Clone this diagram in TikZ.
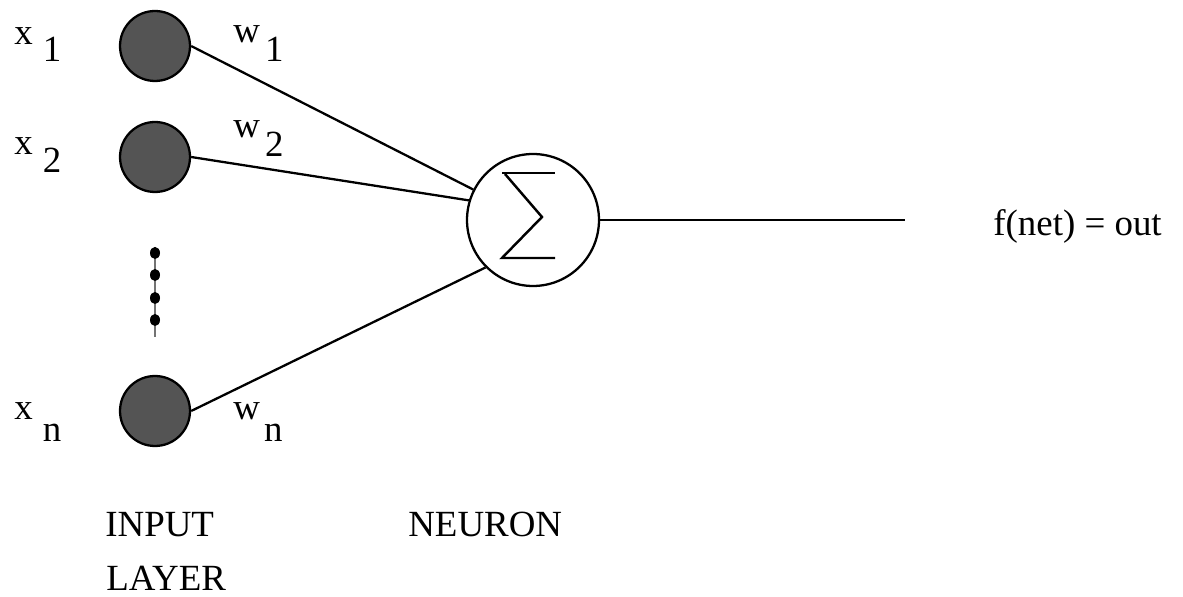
\documentclass[tikz,border=0pt]{standalone}
\usepackage{fontspec}
\setmainfont{Liberation Serif}
\begin{document}
\begin{tikzpicture}[x=0.02cm,y=-0.02cm,
  inputnode/.style={circle,draw=black,fill=black!67,line width=1.3pt,minimum size=1.4cm,inner sep=0pt},
  sumnode/.style={circle,draw=black,fill=white,line width=1.3pt,minimum size=2.64cm,inner sep=0pt},
  edge/.style={line width=1.3pt,draw=black},
  lbl/.style={anchor=base west,inner sep=0pt,font=\fontsize{21}{25}\selectfont}]
\useasboundingbox (0,0) rectangle (1183,597);
% input nodes
\node[inputnode] (n1) at (155,46) {};
\node[inputnode] (n2) at (155,157) {};
\node[inputnode] (nn) at (155,411) {};
% neuron
\node[sumnode] (sig) at (533,220) {};
\draw[line width=1.4pt] (502,173) -- (555,173);
\draw[line width=1.4pt,line join=miter] (505,174) -- (542,217) -- (502,258) -- (555,258);
% dots
\draw[black!55,line width=0.8pt] (155,247) -- (155,337);
\foreach \yy in {253,275,298,320} \fill[black] (155,\yy) ellipse [x radius=5,y radius=6];
% connectors
\draw[edge] (n1.east) -- (sig.153);
\draw[edge] (n2.east) -- (sig.163);
\draw[edge] (nn.east) -- (sig.225);
\coordinate (outend) at (905,220);
\draw[edge] (sig.east) -- (outend);
% labels
\node[lbl] (lx1) at (14,45) {x\hspace{0.2cm}\raisebox{-0.34cm}{1}};
\node[lbl] (lx2) at (14,155) {x\hspace{0.2cm}\raisebox{-0.36cm}{2}};
\node[lbl] (lxn) at (14,420) {x\hspace{0.2cm}\raisebox{-0.44cm}{n}};
\node[lbl] (lw1) at (233,43) {w\hspace{0.1cm}\raisebox{-0.38cm}{1}};
\node[lbl] (lw2) at (233,138) {w\hspace{0.1cm}\raisebox{-0.38cm}{2}};
\node[lbl] (lwn) at (233,420) {w\hspace{0.08cm}\raisebox{-0.44cm}{n}};
\node[lbl] (out) at (993,236) {f(net) = out};
\node[lbl] (inp) at (105,537) {INPUT};
\node[lbl] (lay) at (106,590) {LAYER};
\node[lbl] (neu) at (408,537) {NEURON};
\end{tikzpicture}
\end{document}
